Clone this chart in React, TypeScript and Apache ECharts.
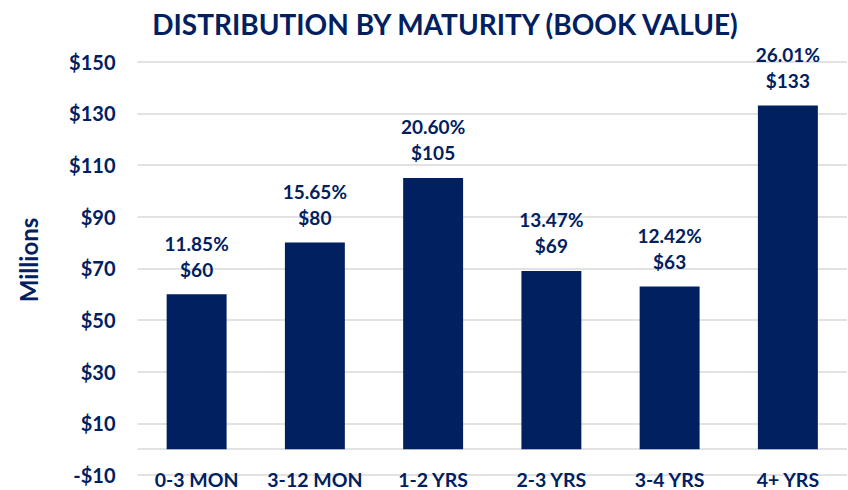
import React, { useEffect, useRef } from "react";
import * as echarts from "echarts";

const categories = ["0-3 MON", "3-12 MON", "1-2 YRS", "2-3 YRS", "3-4 YRS", "4+ YRS"];
const bookValues = [60, 80, 105, 69, 63, 133];
const percentages = [11.85, 15.65, 20.6, 13.47, 12.42, 26.01];
const yMin = -10;
const yMax = 150;
const yInterval = 20;

const NAVY = "#002060";
const GRID = "#d9d9d9";
const FONT = "Lato, 'Noto Sans', sans-serif";

export default function App() {
  const ref = useRef<HTMLDivElement>(null);
  useEffect(() => {
    if (!ref.current) return;
    const chart = echarts.init(ref.current, undefined, { renderer: "svg" });
    chart.setOption({
      animation: false,
      backgroundColor: "#ffffff",
      title: {
        text: "DISTRIBUTION BY MATURITY (BOOK VALUE)",
        left: 440,
        textAlign: "center",
        top: 5,
        textStyle: { color: NAVY, fontFamily: FONT, fontWeight: "bold", fontSize: 28 },
      },
      graphic: [
        {
          type: "text",
          x: 28,
          y: 260,
          rotation: Math.PI / 2,
          style: {
            text: "Millions",
            fill: NAVY,
            font: `bold 24px ${FONT}`,
            align: "center",
            verticalAlign: "middle",
          },
        },
      ],
      grid: {
        left: 137.5,
        right: 1,
        top: 61.7,
        bottom: 15,
        containLabel: false,
        outerBoundsMode: "none",
      },
      xAxis: {
        type: "category",
        data: categories,
        axisLine: { show: false },
        axisTick: { show: false },
        axisLabel: {
          interval: 0,
          margin: 4,
          verticalAlign: "middle",
          lineHeight: 18,
          color: NAVY,
          fontFamily: FONT,
          fontWeight: "bold",
          fontSize: 19.5,
        },
      },
      yAxis: {
        type: "value",
        min: yMin,
        max: yMax,
        interval: yInterval,
        axisLine: { show: false },
        axisTick: { show: false },
        splitLine: { lineStyle: { color: GRID, width: 1.5 } },
        axisLabel: {
          margin: 22,
          color: NAVY,
          fontFamily: FONT,
          fontWeight: "bold",
          fontSize: 20,
          formatter: (v: number) => (v < 0 ? `-$${Math.abs(v)}` : `$${v}`),
        },
      },
      series: [
        {
          type: "bar",
          data: bookValues,
          barWidth: "50.7%",
          itemStyle: { color: NAVY },
          label: {
            show: true,
            position: "top",
            distance: 12,
            color: NAVY,
            fontFamily: FONT,
            fontWeight: "bold",
            fontSize: 19,
            lineHeight: 26,
            formatter: (p: any) => `${percentages[p.dataIndex].toFixed(2)}%\n$${p.value}`,
          },
          markLine: {
            silent: true,
            symbol: "none",
            label: { show: false },
            lineStyle: { color: GRID, width: 1.5, type: "solid" },
            data: [{ yAxis: 0 }],
            z: 1,
          },
        },
      ],
    });
    return () => chart.dispose();
  }, []);
  return (
    <div
      ref={ref}
      style={{ position: "fixed", left: 0, top: 0, width: 848, height: 490, background: "#fff" }}
    />
  );
}
